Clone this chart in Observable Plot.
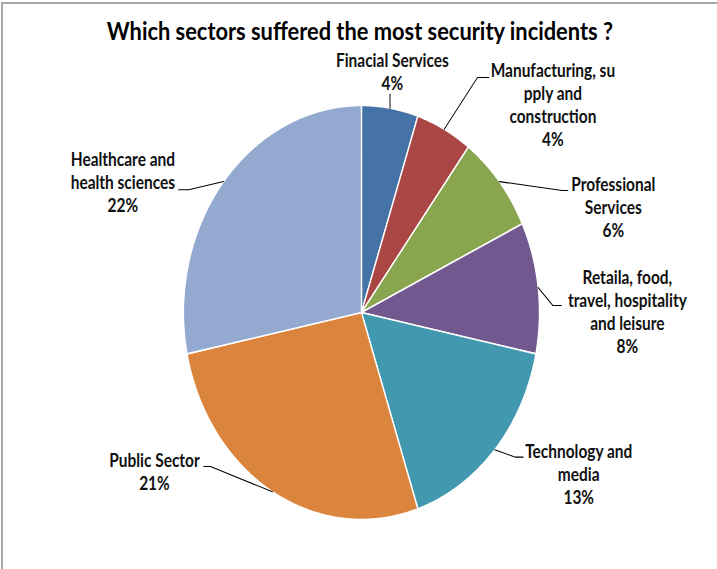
<!DOCTYPE html>
<html>
<head>
<meta charset="utf-8">
<script src="https://cdn.jsdelivr.net/npm/d3@7"></script>
<script src="https://cdn.jsdelivr.net/npm/@observablehq/plot@0.6"></script>
<style>
html, body { margin: 0; padding: 0; overflow: hidden; background: #fff; width: 717px; height: 569px; }
#frame { position: absolute; left: 1px; top: 2px; width: 716px; height: 567px; border-top: 2px solid #a6a6a6; border-left: 2px solid #a6a6a6; box-sizing: border-box; }
#wrap { position: absolute; left: 0; top: 0; width: 834px; height: 569px; transform: scaleX(0.86); transform-origin: 0 0; }
#title { position: absolute; left: 0; top: 18px; width: 837px; text-align: center; font: bold 25.4px Lato, sans-serif; line-height: 25px; color: #000; z-index: 2; }
#chart { position: absolute; left: 0; top: 0; }
</style>
</head>
<body>
<div id="frame"></div>
<div id="wrap">
  <div id="title">Which sectors suffered the most security incidents ?</div>
  <div id="chart"></div>
</div>
<script>
// ---- data ----
const sectors = [
  "Finacial Services",
  "Manufacturing, supply and construction",
  "Professional Services",
  "Retaila, food, travel, hospitality and leisure",
  "Technology and media",
  "Public Sector",
  "Healthcare and health sciences"
];
const labelText = [
  "Finacial Services",
  "Manufacturing, su\npply and\nconstruction",
  "Professional\nServices",
  "Retaila, food,\ntravel, hospitality\nand leisure",
  "Technology and\nmedia",
  "Public Sector",
  "Healthcare and\nhealth sciences"
];
const values = [4, 4, 6, 8, 13, 21, 22];
const colors = ["#4572A7", "#AA4643", "#89A54E", "#71588F", "#4198AF", "#DB843D", "#93A9CF"];

// ---- layout (pixels) ----
const W = 834, H = 569, CX = 419.8, CY = 312, R = 207;
// leader: [elbowDx, elbowDy, endDx, endDy] from slice edge point
const leader = [
  [0, -14, 0, -14],
  [38.7, -51.7, 51.8, -51.7],
  [73, 8.9, 79.6, 8.9],
  [16.9, 17.9, 27, 17.9],
  [24.1, 7.4, 33.1, 7.4],
  [-72.1, -25.3, -79.9, -25.3],
  [-40.5, 8.2, -52.2, 8.2]
];
// text anchor (center, last baseline) offset from slice edge point
const textOffset = [
  [2.8, -18.4], [126.4, 16.3], [132.5, 55.6], [103.7, 65.6],
  [97.7, 54.7], [-137.2, -1.3], [-117.1, 30.6]
];

// ---- geometry from data ----
const arcs = d3.pie().sort(null).value(d => d)(values);
const step = Math.PI / 360;
const slicePts = [];
arcs.forEach((a, i) => {
  slicePts.push({i, sector: sectors[i], x: 0, y: 0});
  const n = Math.max(2, Math.ceil((a.endAngle - a.startAngle) / step));
  for (let k = 0; k <= n; k++) {
    const t = a.startAngle + (a.endAngle - a.startAngle) * k / n;
    slicePts.push({i, sector: sectors[i], x: Math.sin(t), y: Math.cos(t)});
  }
  slicePts.push({i, sector: sectors[i], x: 0, y: 0});
});
const circlePts = d3.range(0, 721).map(k => ({x: Math.sin(k * step), y: Math.cos(k * step)}));

const leaderPts = [];
const labels = [];
arcs.forEach((a, i) => {
  const m = (a.startAngle + a.endAngle) / 2;
  const ex = Math.sin(m), ey = Math.cos(m);
  const [edx, edy, ndx, ndy] = leader[i];
  leaderPts.push({i, x: ex, y: ey});
  leaderPts.push({i, x: ex + edx / R, y: ey - edy / R});
  leaderPts.push({i, x: ex + ndx / R, y: ey - ndy / R});
  labels.push({
    x: ex + textOffset[i][0] / R,
    y: ey - textOffset[i][1] / R,
    text: `${labelText[i]}\n${values[i]}%`
  });
});

const chart = Plot.plot({
  width: W,
  height: H,
  margin: 0,
  x: {domain: [-1, 1], range: [CX - R, CX + R], axis: null},
  y: {domain: [-1, 1], range: [CY + R, CY - R], axis: null},
  color: {domain: sectors, range: colors},
  style: {fontFamily: "Lato, sans-serif", background: "transparent", overflow: "visible"},
  marks: [
    Plot.line(circlePts, {x: "x", y: "y", fill: "#000", fillOpacity: 0.35, stroke: "none", dy: 3, ariaLabel: "pie-shadow"}),
    Plot.line(slicePts, {x: "x", y: "y", z: "i", fill: "sector", stroke: "#fff", strokeWidth: 1.6, strokeLinejoin: "round"}),
    Plot.line(leaderPts, {x: "x", y: "y", z: "i", stroke: "#000", strokeWidth: 1.1}),
    Plot.text(labels, {x: "x", y: "y", text: "text", textAnchor: "middle", lineAnchor: "bottom",
      fontSize: 18, fontWeight: "bold", lineHeight: 23 / 18, fill: "#111"})
  ]
});

// soft blur for the pie shadow
const svgNS = "http://www.w3.org/2000/svg";
const defs = document.createElementNS(svgNS, "defs");
defs.innerHTML = '<filter id="blur" x="-20%" y="-20%" width="140%" height="140%"><feGaussianBlur stdDeviation="2.5"/></filter>';
chart.insertBefore(defs, chart.firstChild);
const sh = chart.querySelector('g[aria-label="pie-shadow"]');
if (sh) sh.setAttribute("filter", "url(#blur)");

document.getElementById("chart").appendChild(chart);
</script>
</body>
</html>
